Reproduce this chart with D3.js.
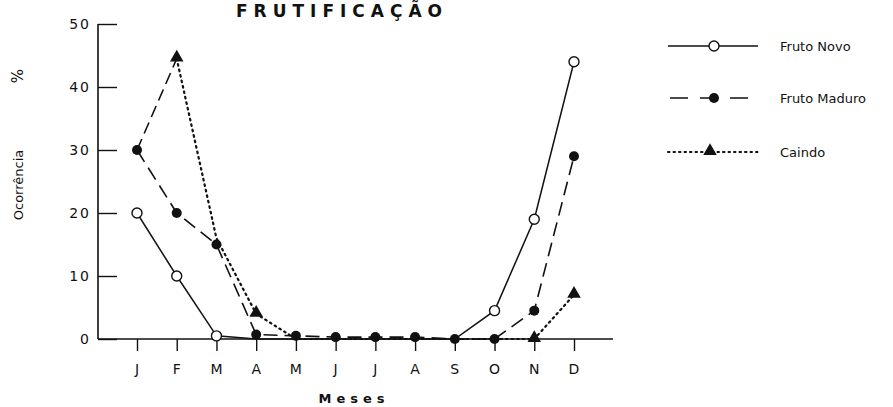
<!DOCTYPE html>
<html><head><meta charset="utf-8">
<script src="https://cdn.jsdelivr.net/npm/d3@7"></script>
<style>body{margin:0;background:#fff}svg{display:block}text{font-family:"DejaVu Sans",sans-serif;fill:#111}</style>
</head><body><svg id="c" width="893" height="407"></svg>
<script>
const months = ["J","F","M","A","M","J","J","A","S","O","N","D"];
const yTicks = [0,10,20,30,40,50];
const frutoNovo   = [20,10,0.5,0,0,0,0,0,0,4.5,19,44];
const frutoMaduro = [30,20,15,0.7,0.5,0.3,0.3,0.3,0,0,4.5,29];
const caindo      = [30,44.5,16,4,0,0,0,0,0,0,0,7];
const seriesNames = ["Fruto Novo","Fruto Maduro","Caindo"];

const svg = d3.select("#c");
const x = d3.scaleLinear().domain([0,11]).range([137,574]);
const y = d3.scaleLinear().domain([0,50]).range([339,24]);
const ink = "#111";

// title
svg.append("text").attr("x",342).attr("y",17).attr("text-anchor","middle")
  .style("font-size","17px").style("font-weight","bold").style("letter-spacing","6px").text("FRUTIFICAÇÃO");

// y axis
const ya = svg.append("g").attr("transform","translate(98,0)")
  .call(d3.axisRight(y).tickValues(yTicks).tickSize(19).tickFormat(""));
ya.select(".domain").attr("d",`M0,${y(0)}V${y(50)}`).attr("stroke",ink).attr("stroke-width",1.6);
ya.selectAll(".tick line").attr("stroke",ink).attr("stroke-width",1.4);
svg.selectAll(".ylab").data(yTicks).join("text").attr("class","ylab")
  .attr("x",91).attr("y",d=>y(d)+5).attr("text-anchor","end")
  .style("font-size","14px").style("letter-spacing","2px").text(d=>d);

// x axis
const xa = svg.append("g").attr("transform",`translate(0,${y(0)})`)
  .call(d3.axisBottom(x).tickValues(d3.range(12)).tickSize(12).tickFormat(""));
xa.select(".domain").attr("d","M98,0H613").attr("stroke",ink).attr("stroke-width",1.6);
xa.selectAll(".tick line").attr("stroke",ink).attr("stroke-width",1.4);
svg.selectAll(".xlab").data(months).join("text").attr("class","xlab")
  .attr("x",(d,i)=>x(i)).attr("y",374).attr("text-anchor","middle")
  .style("font-size","14px").style("font-weight","500").text(d=>d);
svg.append("text").attr("x",354).attr("y",403).attr("text-anchor","middle")
  .style("font-size","13px").style("font-weight","bold").style("letter-spacing","5px").text("Meses");

// y labels
svg.append("text").attr("transform","translate(23,76) rotate(-90)").attr("text-anchor","middle")
  .style("font-size","15px").text("%");
svg.append("text").attr("transform","translate(23,185) rotate(-90)").attr("text-anchor","middle")
  .style("font-size","13px").text("Ocorrência");

const line = d3.line().x((d,i)=>x(i)).y(d=>y(d));
const tri = d3.symbol().type(d3.symbolTriangle).size(80);

// Caindo line: first segment dashed as in the reference, rest dotted
const cPts = caindo.map((d,i)=>[x(i),y(d)]);
svg.append("path").attr("d",d3.line()(cPts.slice(0,2))).attr("fill","none").attr("stroke",ink)
  .attr("stroke-width",1.6).attr("stroke-dasharray","12,6");
svg.append("path").attr("d",d3.line()(cPts.slice(1))).attr("fill","none").attr("stroke",ink)
  .attr("stroke-width",2.2).attr("stroke-dasharray","1.6,4").attr("stroke-linecap","round");
const visibleTri = [1,3,10,11];
svg.selectAll(".tri").data(visibleTri).join("path").attr("class","tri")
  .attr("d",tri).attr("transform",i=>`translate(${x(i)},${y(caindo[i])-1})`).attr("fill",ink);

// Fruto Maduro
svg.append("path").attr("d",line(frutoMaduro)).attr("fill","none").attr("stroke",ink)
  .attr("stroke-width",1.6).attr("stroke-dasharray","14,7");
svg.selectAll(".dot").data(frutoMaduro).join("circle").attr("class","dot")
  .attr("cx",(d,i)=>x(i)).attr("cy",d=>y(d)).attr("r",5).attr("fill",ink);

// Fruto Novo
svg.append("path").attr("d",line(frutoNovo)).attr("fill","none").attr("stroke",ink).attr("stroke-width",1.5);
const visibleOc = [0,1,2,9,10,11];
svg.selectAll(".oc").data(visibleOc).join("circle").attr("class","oc")
  .attr("cx",i=>x(i)).attr("cy",i=>y(frutoNovo[i])).attr("r",5)
  .attr("fill","#fff").attr("stroke",ink).attr("stroke-width",1.4);

// legend
const ly = [46,98,152];
const lg = svg.append("g");
seriesNames.forEach((n,k)=>{
  const g = lg.append("g");
  const l = g.append("line").attr("x1",668).attr("x2",758).attr("y1",ly[k]).attr("y2",ly[k])
    .attr("stroke",ink).attr("stroke-width",k===2?2:1.5);
  if(k===1) l.attr("stroke-dasharray","18,12").attr("stroke-dashoffset","-2");
  if(k===2) l.attr("stroke-dasharray","1.5,4").attr("stroke-linecap","round");
  if(k===0) g.append("circle").attr("cx",714).attr("cy",ly[k]).attr("r",5).attr("fill","#fff").attr("stroke",ink).attr("stroke-width",1.4);
  if(k===1) g.append("circle").attr("cx",714).attr("cy",ly[k]).attr("r",5).attr("fill",ink);
  if(k===2) g.append("path").attr("d",tri).attr("transform",`translate(710,${ly[k]-1})`).attr("fill",ink);
  g.append("text").attr("x",780).attr("y",ly[k]+5).style("font-size","13px").text(n);
});
</script></body></html>
